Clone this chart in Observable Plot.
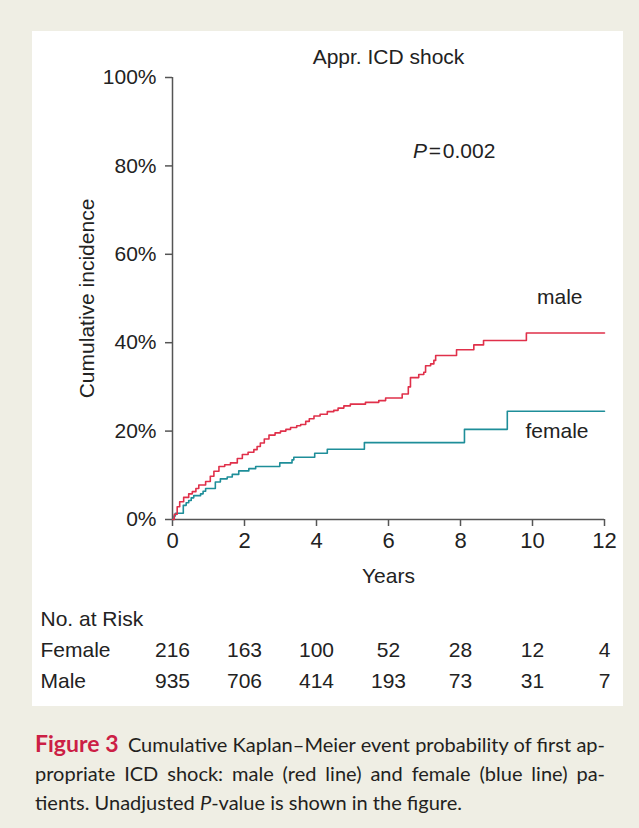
<!DOCTYPE html>
<html>
<head>
<meta charset="utf-8">
<script src="https://cdn.jsdelivr.net/npm/d3@7"></script>
<script src="https://cdn.jsdelivr.net/npm/@observablehq/plot@0.6"></script>
<style>
  html, body { margin: 0; padding: 0; }
  body { width: 639px; height: 828px; background: #efeee4; position: relative; overflow: hidden; font-family: "Liberation Sans", Arial, sans-serif; }
  #panel { position: absolute; left: 32px; top: 31px; width: 591px; height: 675px; background: #fff; }
  #panel svg { display: block; }
  #pval { position: absolute; left: 381px; top: 108px; font-size: 21px; color: #222; font-family: "Liberation Sans", Arial, sans-serif; white-space: nowrap; }
  #caption { position: absolute; left: 35px; top: 729px; width: 570px; font-family: Lato, "Noto Sans", sans-serif; font-size: 20px; color: #231f20; line-height: 29px; }
  #caption .ln { text-align: justify; text-align-last: justify; white-space: nowrap; }
  #caption .ln.last { text-align-last: left; }
  #caption b { color: #cc1f45; font-size: 23px; margin-right: 4px; }
</style>
</head>
<body>
<div id="panel">
  <div id="chart"></div>
  <div id="risk"></div>
  <div id="pval"><i>P</i>&#8202;=&#8202;0.002</div>
</div>
<div id="caption">
  <div class="ln"><b>Figure 3</b> Cumulative Kaplan–Meier event probability of first ap-</div>
  <div class="ln">propriate ICD shock: male (red line) and female (blue line) pa-</div>
  <div class="ln last">tients. Unadjusted <i>P</i>-value is shown in the figure.</div>
</div>
<script>
// Male (red) cumulative incidence, % vs years
const maleTime = [0, 0.05, 0.13, 0.2, 0.31, 0.45, 0.55, 0.65, 0.73, 0.92, 1.05, 1.15, 1.29, 1.45, 1.61, 1.8, 1.94, 2.1, 2.26, 2.35, 2.44, 2.55, 2.68, 2.85, 3.0, 3.15, 3.28, 3.45, 3.56, 3.7, 3.8, 3.93, 4.1, 4.3, 4.48, 4.6, 4.76, 4.94, 5.36, 5.73, 5.92, 6.38, 6.55, 6.61, 6.84, 6.98, 7.03, 7.17, 7.26, 7.31, 7.89, 8.37, 8.64, 9.83, 12];
const maleCum  = [0, 1.2, 2.9, 4.0, 5.0, 5.8, 6.3, 7.0, 7.8, 8.6, 9.8, 10.9, 12.0, 12.4, 12.8, 13.8, 14.7, 15.2, 15.8, 16.5, 17.3, 18.2, 19.1, 19.6, 20.0, 20.4, 20.8, 21.2, 21.5, 22.2, 22.8, 23.4, 23.8, 24.4, 24.7, 25.2, 25.7, 26.1, 26.5, 26.9, 27.5, 28.4, 30.0, 32.1, 32.8, 33.3, 34.8, 35.2, 36.0, 37.1, 38.4, 39.5, 40.5, 42.2, 42.2];
// Female (teal)
const femaleTime = [0, 0.04, 0.08, 0.3, 0.38, 0.45, 0.52, 0.59, 0.78, 0.85, 0.92, 1.19, 1.33, 1.52, 1.66, 1.84, 2.12, 2.31, 2.98, 3.32, 3.37, 3.95, 4.3, 5.33, 8.11, 9.3, 12];
const femaleCum  = [0, 0.8, 1.4, 3.2, 3.8, 4.3, 4.9, 5.4, 5.8, 6.4, 7.0, 8.5, 9.2, 9.6, 10.2, 11.0, 11.5, 12.0, 12.8, 13.5, 14.1, 15.0, 15.9, 17.4, 20.4, 24.5, 24.5];

const xTicks = [0, 2, 4, 6, 8, 10, 12];
const yTicks = [0, 20, 40, 60, 80, 100];
const riskRows = ["No. at Risk", "Female", "Male"];
const riskFemale = [216, 163, 100, 52, 28, 12, 4];
const riskMale = [935, 706, 414, 193, 73, 31, 7];

const RED = "#e0304a", TEAL = "#1e8e99", AX = "#555", TXT = "#222";
const FONT = "Liberation Sans, Arial, sans-serif";

const male = maleTime.map((t, i) => ({t, v: maleCum[i]}));
const female = femaleTime.map((t, i) => ({t, v: femaleCum[i]}));

const W = 591;
const chart = Plot.plot({
  width: W, height: 570,
  marginLeft: 140, marginRight: 19, marginTop: 46, marginBottom: 82,
  style: {fontFamily: FONT, background: "transparent", overflow: "visible"},
  x: {domain: [0, 12]},
  y: {domain: [0, 100]},
  marks: [
    Plot.axisX({ticks: xTicks, tickSize: 7, tickPadding: 6, fontSize: 22, stroke: AX, fill: TXT, strokeWidth: 1.5, label: null}),
    Plot.axisY({ticks: yTicks, tickSize: 7, tickPadding: 9, fontSize: 21, stroke: AX, fill: TXT, strokeWidth: 1.5, tickFormat: d => d + "%", label: null}),
    Plot.ruleX([0], {y1: 0, y2: 100, stroke: AX, strokeWidth: 1.5}),
    Plot.ruleY([0], {x1: 0, x2: 12, stroke: AX, strokeWidth: 1.5}),
    Plot.line(female, {x: "t", y: "v", curve: "step-after", stroke: TEAL, strokeWidth: 1.6}),
    Plot.line(male, {x: "t", y: "v", curve: "step-after", stroke: RED, strokeWidth: 1.6}),
    Plot.text([male[male.length - 1]], {x: "t", y: "v", text: () => "male", textAnchor: "end", dx: -22, dy: -36, fontSize: 21, fill: TXT}),
    Plot.text([female[female.length - 1]], {x: "t", y: "v", text: () => "female", textAnchor: "end", dx: -16, dy: 20, fontSize: 21, fill: TXT}),
    Plot.text(["Appr. ICD shock"], {frameAnchor: "top", dy: -20, lineAnchor: "middle", fontSize: 21, fill: TXT}),
    Plot.text(["Years"], {frameAnchor: "bottom", dy: 57, lineAnchor: "middle", fontSize: 21, fill: TXT}),
    Plot.text(["Cumulative incidence"], {frameAnchor: "left", dx: -85, rotate: -90, textAnchor: "middle", lineAnchor: "middle", fontSize: 21, fill: TXT})
  ]
});
document.getElementById("chart").append(chart);

const riskData = [];
xTicks.forEach((t, i) => {
  riskData.push({t, row: "Female", n: riskFemale[i]});
  riskData.push({t, row: "Male", n: riskMale[i]});
});
const risk = Plot.plot({
  width: W, height: 105,
  marginLeft: 140, marginRight: 19, marginTop: 0, marginBottom: 0,
  style: {fontFamily: FONT, background: "transparent", overflow: "visible"},
  x: {domain: [0, 12], axis: null},
  y: {type: "point", domain: riskRows, range: [18, 80], padding: 0, axis: null},
  marks: [
    Plot.text(riskRows, {y: d => d, text: d => d, frameAnchor: "left", dx: -132, textAnchor: "start", fontSize: 21, fill: TXT}),
    Plot.text(riskData, {x: "t", y: "row", text: "n", textAnchor: "middle", fontSize: 21, fill: TXT})
  ]
});
document.getElementById("risk").append(risk);
</script>
</body>
</html>
